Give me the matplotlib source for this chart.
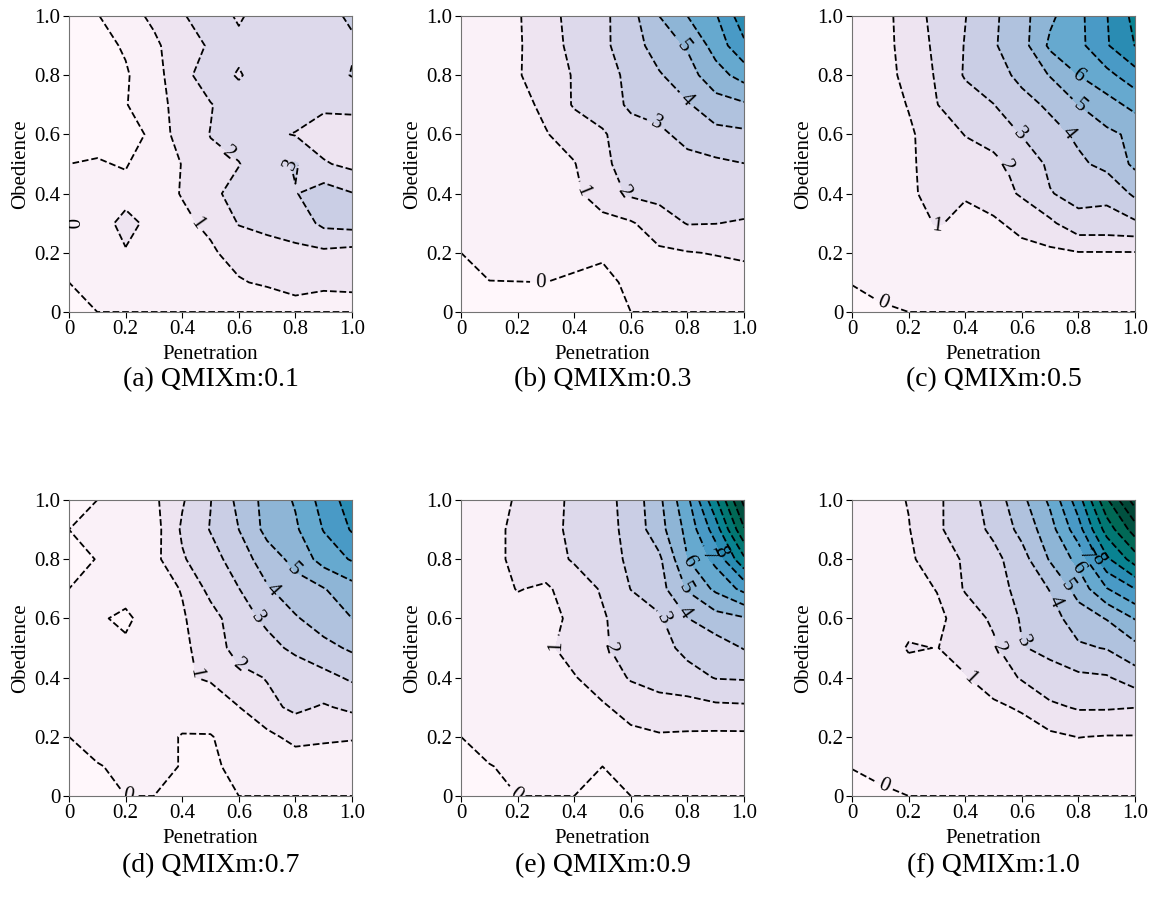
import numpy as np
import matplotlib
matplotlib.use("Agg")
import matplotlib.pyplot as plt

plt.rcParams['font.family'] = ['Liberation Serif', 'DejaVu Serif']

# grid of the sweep (rows = obedience, columns = penetration)
penetration = [0, 0.1, 0.2, 0.3, 0.4, 0.5, 0.6, 0.7, 0.8, 0.9, 1.0]
obedience = [0, 0.1, 0.2, 0.3, 0.4, 0.5, 0.6, 0.7, 0.8, 0.9, 1.0]

z_01 = [
    [-0.3, 0, 0, 0, 0, 0, 0, 0, 0, 0, 0],
    [0, 0.3, 0.4, 0.5, 0.6, 0.8, 0.9, 1.18, 1.8, 1.4, 1.5],
    [0, 0.3, 0.88, 0.5, 0.6, 0.85, 1.4, 1.7, 1.8, 1.81, 1.66],
    [0, 0.25, 1.5, 0.5, 0.8, 1.2, 2.05, 2.2, 2.4, 3.24, 3.38],
    [0, 0.3, 0.4, 0.6, 1.05, 1.8, 2.3, 2.6, 2.95, 3.5, 3.05],
    [0, 0.1, -0.1, 0.8, 1.01, 1.85, 1.97, 2.5, 3.1, 2.1, 1.75],
    [-0.3, -0.4, -0.3, 0.15, 1.6, 2.02, 2.3, 2.2, 1.95, 1.5, 1.6],
    [-0.4, -0.4, -0.05, 0.6, 1.4, 1.95, 2.5, 2.6, 2.5, 2.2, 2.2],
    [-0.5, -0.5, -0.1, 0.6, 1.7, 2.5, 1.9, 2.6, 2.6, 2.5, 3.05],
    [-0.5, -0.3, 0.1, 0.8, 1.6, 2.1, 2.3, 2.6, 2.7, 2.7, 2.9],
    [-0.5, -0.05, 0.6, 1.2, 1.9, 2.6, 1.85, 2.6, 2.7, 2.8, 3.1],
]

z_03 = [
    [-0.3, -0.3, -0.2, 0.0, -0.3, -0.3, 0, 0, 0, 0, 0],
    [-0.2, -0.02, -0.01, 0.0, -0.1, -0.2, 0.15, 0.3, 0.5, 0.5, 0.5],
    [0.0, 0.3, 0.3, 0.25, 0.2, 0.1, 0.5, 0.85, 0.95, 1.05, 1.2],
    [0.05, 0.15, 0.25, 0.35, 0.5, 0.7, 0.9, 1.5, 2.05, 2.02, 1.9],
    [0.1, 0.2, 0.3, 0.5, 0.8, 1.5, 2.15, 2.3, 2.5, 2.55, 2.6],
    [0.1, 0.25, 0.4, 0.6, 0.95, 1.85, 2.3, 2.5, 2.7, 2.8, 2.98],
    [0.15, 0.3, 0.55, 0.95, 1.4, 1.9, 2.5, 2.8, 3.3, 3.7, 3.8],
    [0.2, 0.35, 0.7, 1.2, 2.1, 2.4, 3.2, 3.4, 3.9, 4.6, 4.85],
    [0.2, 0.4, 0.95, 1.3, 2.1, 2.5, 3.3, 3.9, 4.6, 5.6, 6.4],
    [0.2, 0.4, 0.9, 1.5, 2.3, 2.8, 3.5, 4.5, 5.1, 6.4, 7.8],
    [0.3, 0.5, 0.9, 1.68, 2.29, 2.76, 3.64, 5.0, 6.0, 6.9, 8.6],
]

z_05 = [
    [-0.2, -0.1, 0.0, 0, 0, 0, 0, 0, 0, 0, 0],
    [0.02, 0.2, 0.3, 0.3, 0.3, 0.35, 0.4, 0.45, 0.5, 0.5, 0.5],
    [0.05, 0.2, 0.6, 0.6, 0.6, 0.6, 0.6, 0.8, 0.95, 0.95, 0.95],
    [0.1, 0.3, 0.7, 1.05, 0.85, 0.8, 1.4, 1.8, 2.7, 2.7, 2.85],
    [0.15, 0.35, 0.9, 1.2, 1.05, 1.6, 2.1, 2.95, 3.3, 3.2, 4.2],
    [0.2, 0.4, 0.85, 1.4, 1.6, 1.8, 2.3, 3.2, 3.8, 4.3, 5.2],
    [0.2, 0.45, 0.85, 1.5, 2.03, 2.3, 3.05, 3.6, 4.2, 4.8, 5.2],
    [0.25, 0.5, 1.05, 1.98, 2.5, 2.98, 3.6, 4.2, 5.0, 5.6, 6.3],
    [0.3, 0.55, 1.3, 2.1, 3.1, 3.5, 4.3, 5.05, 6.0, 6.7, 7.6],
    [0.3, 0.6, 1.4, 2.2, 3.05, 3.9, 4.6, 6.2, 6.7, 7.9, 9.02],
    [0.3, 0.6, 1.47, 2.31, 2.97, 3.83, 4.65, 5.8, 6.73, 7.96, 9.3],
]

z_07 = [
    [-0.2, -0.1, 0.0, 0.0, 0.0, -0.2, 0, 0, 0, 0, 0],
    [-0.1, -0.03, 0.1, 0.3, -0.05, -0.2, 0.3, 0.35, 0.4, 0.3, 0.3],
    [0.0, 0.2, 0.25, 0.3, -0.05, -0.05, 0.4, 0.75, 1.3, 1.2, 1.1],
    [0.05, 0.2, 0.3, 0.35, 0.4, 0.5, 0.98, 1.75, 2.2, 1.9, 2.2],
    [0.05, 0.2, 0.3, 0.35, 0.9, 1.1, 1.7, 2.05, 2.4, 2.7, 3.15],
    [0.05, 0.15, 0.15, 0.3, 0.8, 1.45, 2.4, 2.7, 3.2, 3.7, 4.15],
    [0.05, 0.1, -0.15, 0.4, 0.9, 1.6, 2.6, 3.2, 3.9, 4.5, 5.0],
    [0.0, 0.2, 0.3, 0.6, 1.05, 2.3, 2.98, 3.9, 4.6, 4.95, 5.6],
    [-0.2, 0.02, 0.3, 0.7, 1.9, 2.6, 3.5, 4.5, 5.3, 6.4, 7.1],
    [0.0, 0.2, 0.3, 0.6, 2.14, 3.05, 4.0, 5.3, 5.85, 7.05, 8.1],
    [-0.1, 0.0, 0.3, 0.8, 1.9, 2.97, 4.25, 5.35, 6.1, 7.4, 8.5],
]

z_09 = [
    [-0.2, -0.1, 0.0, 0.0, 0.0, -0.2, 0, 0, 0, 0, 0],
    [-0.1, -0.02, 0.1, 0.2, 0.2, 0.0, 0.2, 0.3, 0.3, 0.3, 0.3],
    [0.0, 0.2, 0.3, 0.35, 0.45, 0.6, 0.8, 0.9, 0.85, 0.8, 0.8],
    [0.1, 0.25, 0.35, 0.45, 0.7, 0.9, 1.3, 1.6, 1.65, 1.8, 1.85],
    [0.15, 0.3, 0.4, 0.6, 0.95, 1.4, 2.1, 2.4, 2.6, 3.05, 3.1],
    [0.2, 0.35, 0.5, 0.85, 1.3, 1.9, 2.3, 2.6, 3.3, 3.5, 4.05],
    [0.2, 0.4, 0.6, 0.7, 1.2, 1.9, 2.5, 2.85, 3.98, 4.6, 4.9],
    [0.25, 0.5, 1.05, 0.85, 1.5, 2.1, 3.02, 3.6, 5.1, 6.2, 7.3],
    [0.25, 0.6, 1.3, 1.6, 2.1, 2.5, 3.2, 3.8, 5.98, 7.3, 9.8],
    [0.3, 0.6, 1.3, 1.7, 2.2, 2.6, 3.3, 4.6, 6.3, 8.5, 11.9],
    [0.3, 0.6, 1.1, 1.66, 2.18, 2.67, 3.33, 4.77, 6.75, 9.83, 13.3],
]

z_10 = [
    [-0.2, -0.1, 0.0, 0, 0, 0, 0, 0, 0, 0, 0],
    [0.02, 0.15, 0.2, 0.25, 0.3, 0.3, 0.35, 0.4, 0.4, 0.4, 0.4],
    [0.05, 0.2, 0.3, 0.4, 0.45, 0.5, 0.6, 0.8, 1.02, 0.95, 0.95],
    [0.1, 0.25, 0.35, 0.5, 0.65, 0.85, 1.1, 1.8, 2.1, 2.1, 2.02],
    [0.1, 0.3, 0.5, 0.7, 0.95, 1.4, 2.1, 2.7, 2.8, 2.9, 3.53],
    [0.15, 0.3, 1.1, 0.98, 1.3, 1.8, 2.95, 3.2, 3.85, 4.05, 4.69],
    [0.15, 0.4, 0.6, 0.8, 1.4, 2.2, 3.1, 3.6, 4.5, 5.05, 6.06],
    [0.2, 0.45, 0.7, 1.03, 2.1, 2.6, 3.3, 4.05, 5.4, 6.95, 8.0],
    [0.25, 0.5, 0.8, 1.6, 2.1, 2.7, 3.6, 5.1, 6.3, 8.8, 10.5],
    [0.3, 0.6, 0.95, 1.85, 2.5, 3.2, 4.3, 5.6, 7.6, 10.4, 12.5],
    [0.3, 0.6, 1.05, 1.84, 2.54, 3.43, 4.73, 6.2, 8.55, 11.83, 14.5],
]

panels = [z_01, z_03, z_05, z_07, z_09, z_10]
captions = ["(a) QMIXm:0.1", "(b) QMIXm:0.3", "(c) QMIXm:0.5",
            "(d) QMIXm:0.7", "(e) QMIXm:0.9", "(f) QMIXm:1.0"]
ticks = [0, 0.2, 0.4, 0.6, 0.8, 1.0]
tick_labels = ["0", "0.2", "0.4", "0.6", "0.8", "1.0"]

# where the inline contour labels sit in each panel
label_spots = [
    [(0.01, 0.3), (0.45, 0.3), (0.53, 0.5), (0.73, 0.5)],
    [(0.28, 0.1), (0.44, 0.41), (0.56, 0.4), (0.7, 0.66), (0.8, 0.72), (0.8, 0.91)],
    [(0.1, 0.01), (0.3, 0.28), (0.555, 0.5), (0.59, 0.6), (0.76, 0.6), (0.8, 0.69), (0.8, 0.8)],
    [(0.21, 0.01), (0.41, 0.41), (0.6, 0.44), (0.68, 0.61), (0.71, 0.69), (0.8, 0.77)],
    [(0.2, 0.01), (0.33, 0.51), (0.51, 0.5), (0.72, 0.6), (0.79, 0.62), (0.79, 0.7),
     (0.8, 0.79), (0.89, 0.82), (0.93, 0.83)],
    [(0.1, 0.01), (0.42, 0.4), (0.515, 0.5), (0.586, 0.51), (0.7, 0.65), (0.757, 0.706),
     (0.793, 0.768), (0.828, 0.814), (0.87, 0.8)],
]

fill_levels = np.arange(-1, 16)
line_levels = np.arange(0, 16)

fig = plt.figure(figsize=(11.57, 9.0), dpi=100)
W, H = 1157.0, 900.0
lefts = [69, 461, 852]
tops = [16, 500]
caption_y = [380, 866]

for k, (z, cap, spots) in enumerate(zip(panels, captions, label_spots)):
    r, c = divmod(k, 3)
    ax = fig.add_axes([lefts[c] / W, 1 - (tops[r] + 296) / H, 283 / W, 296 / H])
    Z = np.array(z)
    ax.contourf(penetration, obedience, Z, levels=fill_levels, cmap='PuBuGn',
                vmin=0, vmax=13)
    cs = ax.contour(penetration, obedience, Z, levels=line_levels, colors='k',
                    linestyles='dashed', linewidths=1.3)
    ax.clabel(cs, inline=True, fmt='%d', fontsize=15, manual=spots)
    ax.set_xlim(0, 1)
    ax.set_ylim(0, 1)
    ax.set_xticks(ticks)
    ax.set_xticklabels(tick_labels)
    ax.set_yticks(ticks)
    ax.set_yticklabels(tick_labels)
    ax.tick_params(labelsize=15, length=4, width=0.8, pad=2)
    for s in ax.spines.values():
        s.set_color('0.45')
        s.set_linewidth(0.8)
    ax.set_xlabel("Penetration", fontsize=15, labelpad=4)
    ax.set_ylabel("Obedience", fontsize=15, labelpad=3)
    fig.text((lefts[c] + 141.5) / W, 1 - caption_y[r] / H, cap,
             fontsize=20, ha='center', va='center')

fig.savefig("out.png", dpi=100)
